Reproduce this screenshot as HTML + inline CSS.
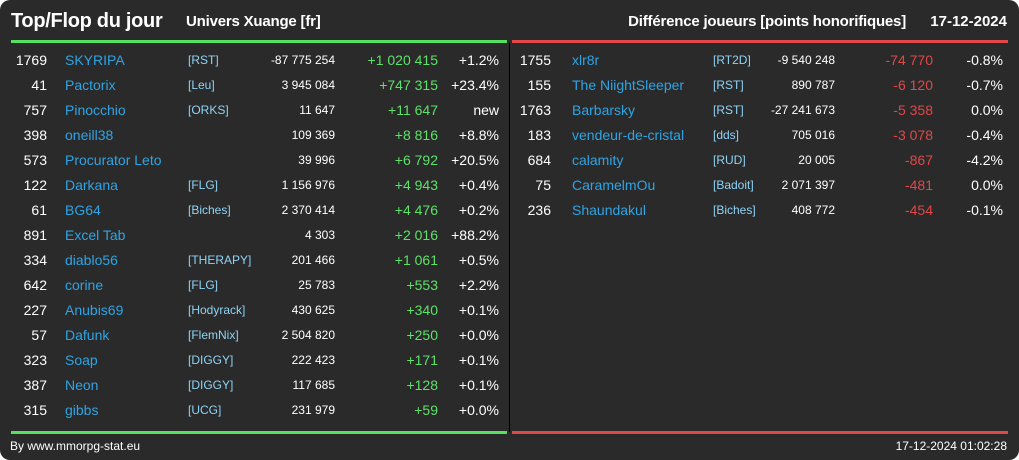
<!DOCTYPE html>
<html><head><meta charset="utf-8"><style>
body{margin:0;width:1019px;height:460px;background:#fff;font-family:"Liberation Sans",sans-serif;overflow:hidden}
#card{position:absolute;left:0;top:0;width:1019px;height:460px;background:#2a2a2a;border-radius:10px;overflow:hidden}
.t{position:absolute;white-space:nowrap;line-height:16px}
.r{text-align:right}
</style></head><body>
<div id="card">
<div class="t" style="left:11px;top:9px;font-size:20px;font-weight:bold;color:#fff;line-height:24px;letter-spacing:-0.3px">Top/Flop du jour</div>
<div class="t" style="left:186px;top:12px;font-size:15px;font-weight:bold;color:#fff;line-height:20px;letter-spacing:-0.2px">Univers Xuange [fr]</div>
<div class="t r" style="right:113px;top:12px;font-size:15px;font-weight:bold;color:#fff;line-height:20px;letter-spacing:-0.2px">Différence joueurs [points honorifiques]</div>
<div class="t r" style="right:12px;top:12px;font-size:15px;font-weight:bold;color:#fff;line-height:20px">17-12-2024</div>
<div style="position:absolute;left:11px;top:40px;width:496px;height:3px;background:#55e060"></div>
<div style="position:absolute;left:512px;top:40px;width:496px;height:3px;background:#e04848"></div>
<div style="position:absolute;left:509px;top:43px;width:1px;height:389px;background:#000"></div>
<div style="position:absolute;left:11px;top:431px;width:496px;height:3px;background:#55e060"></div>
<div style="position:absolute;left:512px;top:431px;width:496px;height:3px;background:#e04848"></div>
<div class="t" style="left:10px;top:438px;font-size:12px;color:#fff">By www.mmorpg-stat.eu</div>
<div class="t r" style="right:12px;top:438px;font-size:12px;color:#fff">17-12-2024 01:02:28</div>
</div>
<script>
const topRanks=["1769","41","757","398","573","122","61","891","334","642","227","57","323","387","315"];
const topNames=["SKYRIPA","Pactorix","Pinocchio","oneill38","Procurator Leto","Darkana","BG64","Excel Tab","diablo56","corine","Anubis69","Dafunk","Soap","Neon","gibbs"];
const topTags=["[RST]","[Leu]","[ORKS]","","","[FLG]","[Biches]","","[THERAPY]","[FLG]","[Hodyrack]","[FlemNix]","[DIGGY]","[DIGGY]","[UCG]"];
const topPoints=["-87 775 254","3 945 084","11 647","109 369","39 996","1 156 976","2 370 414","4 303","201 466","25 783","430 625","2 504 820","222 423","117 685","231 979"];
const topDiffs=["+1 020 415","+747 315","+11 647","+8 816","+6 792","+4 943","+4 476","+2 016","+1 061","+553","+340","+250","+171","+128","+59"];
const topPcts=["+1.2%","+23.4%","new","+8.8%","+20.5%","+0.4%","+0.2%","+88.2%","+0.5%","+2.2%","+0.1%","+0.0%","+0.1%","+0.1%","+0.0%"];
const flopRanks=["1755","155","1763","183","684","75","236"];
const flopNames=["xlr8r","The NiightSleeper","Barbarsky","vendeur-de-cristal","calamity","CaramelmOu","Shaundakul"];
const flopTags=["[RT2D]","[RST]","[RST]","[dds]","[RUD]","[Badoit]","[Biches]"];
const flopPoints=["-9 540 248","890 787","-27 241 673","705 016","20 005","2 071 397","408 772"];
const flopDiffs=["-74 770","-6 120","-5 358","-3 078","-867","-481","-454"];
const flopPcts=["-0.8%","-0.7%","0.0%","-0.4%","-4.2%","0.0%","-0.1%"];
const card=document.getElementById('card');
function cell(txt,x,y,right,size,color,name){
  const d=document.createElement('div');
  d.className='t'+(right?' r':'');
  d.textContent=txt;
  d.style.top=(y-8)+'px';
  if(right){d.style.right=(1019-x)+'px';}else{d.style.left=x+'px';}
  d.style.fontSize=size+'px';d.style.color=color;
  
  
  card.appendChild(d);
  return d;
}
function table(ranks,names,tags,pts,diffs,pcts,xs,diffColor,prefix){
  for(let i=0;i<ranks.length;i++){
    const y=60+i*25;
    cell(ranks[i],xs[0],y,true,14,'#fff',prefix+'-rank');
    const n=cell(names[i],xs[1],y,false,14,'#2fa4e4',prefix+'-player-name');
    
    if(tags[i]){const t=cell(tags[i],xs[2],y,false,12,'#8fd3f5',prefix+'-alliance-tag');}
    cell(pts[i],xs[3],y,true,12,'#fff',prefix+'-points');
    cell(diffs[i],xs[4],y,true,14,diffColor,prefix+'-difference');
    cell(pcts[i],xs[5],y,true,14,'#fff',prefix+'-percent');
  }
}
table(topRanks,topNames,topTags,topPoints,topDiffs,topPcts,[47,65,188,335,438,499],'#5de26a','top');
table(flopRanks,flopNames,flopTags,flopPoints,flopDiffs,flopPcts,[551,572,713,835,933,1003],'#e04848','flop');
</script>
</body></html>
